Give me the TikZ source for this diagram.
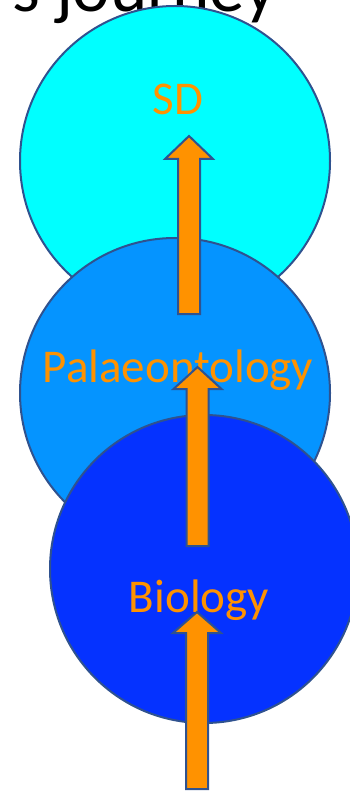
\documentclass[tikz,border=0pt]{standalone}
\usepackage{fontspec}
\setmainfont{Carlito}
\definecolor{cSD}{RGB}{0,255,255}
\definecolor{cPal}{RGB}{5,148,255}
\definecolor{cBio}{RGB}{5,50,255}
\definecolor{cOrange}{RGB}{255,146,0}
\definecolor{cEdge}{RGB}{47,82,143}
\newcommand{\blockarrow}[4]{% #1 x centre, #2 bottom y, #3 head base y, #4 tip y
  \filldraw[arrowbody] (#1-11,#2) -- (#1+11,#2) -- (#1+11,#3) -- (#1+24,#3) -- (#1,#4)
    -- (#1-24,#3) -- (#1-11,#3) -- cycle;}
\begin{document}
\begin{tikzpicture}[x=1pt,y=-1pt,
  disc/.style={circle,draw=cEdge,line width=2pt,minimum size=310pt,inner sep=0pt},
  lbl/.style={text=cOrange,font=\fontsize{47pt}{50pt}\selectfont,anchor=base,inner sep=0pt},
  arrowbody/.style={fill=cOrange,draw=cEdge,line width=2pt,line join=miter}]
\useasboundingbox (0,0) rectangle (349,791);
\node[anchor=base west,inner sep=0pt,font=\fontsize{71pt}{74pt}\selectfont] (title) at (12,12) {s journey};
\node[disc,fill=cSD] (sd) at (175,161) {};
\node[disc,fill=cPal] (pal) at (175,393) {};
\node[disc,fill=cBio,minimum size=308pt] (bio) at (204,569) {};
\node[lbl] (sdt) at (178,115) {SD};
\node[lbl] (palt) at (178,382) {Palaeontology};
\node[lbl] (biot) at (199,612) {Biology};
\blockarrow{189}{314}{159}{136}
\blockarrow{197.5}{546}{389}{367}
\blockarrow{197}{789}{633}{612}
\end{tikzpicture}
\end{document}
